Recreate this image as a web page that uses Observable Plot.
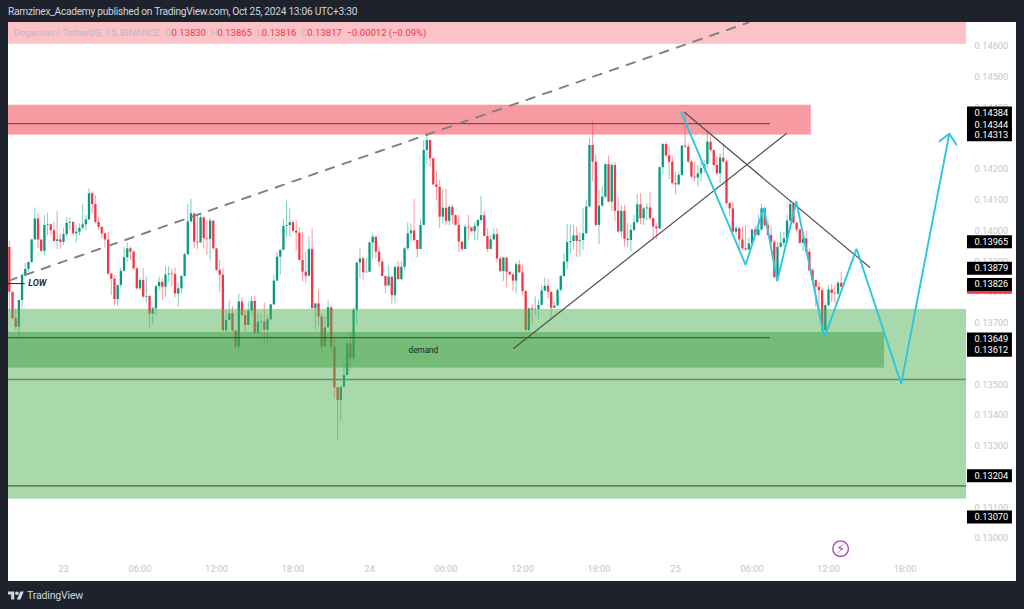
<!DOCTYPE html>
<html>
<head>
<meta charset="utf-8">
<script src="https://cdn.jsdelivr.net/npm/d3@7"></script>
<script src="https://cdn.jsdelivr.net/npm/@observablehq/plot@0.6"></script>
<style>
  html,body{margin:0;padding:0;background:#1e222d;width:1024px;height:609px;overflow:hidden;font-family:Roboto,sans-serif}
  #title{height:22px;line-height:24px;padding-left:8px;color:#d1d4dc;font-size:10.2px;letter-spacing:-.27px;white-space:nowrap}
  #chart{position:relative;margin-left:8px;width:1008px;height:559px}
  #chart svg{display:block}
  #legend{position:absolute;left:6px;top:5px;font-size:9.5px;line-height:12px;white-space:pre;color:#b4bcc9}
  #legend b{font-weight:400;color:#f23645}
  #footer{height:28px;display:flex;align-items:center;padding-left:8px;color:#d1d4dc;font-size:10.6px;letter-spacing:-.2px;gap:3px}
</style>
</head>
<body>
<div id="title">Ramzinex_Academy published on TradingView.com, Oct 25, 2024 13:06 UTC+3:30</div>
<div id="chart">
  <div id="legend"></div>
</div>
<div id="footer">
  <svg width="16" height="12" viewBox="0 0 36 24"><path fill="#d1d4dc" d="M14 22H7V11H0V4h14v18zM28 22h-8l7.5-18h8L28 22z"/><circle fill="#d1d4dc" cx="20" cy="8" r="4"/></svg>
  <span>TradingView</span>
</div>
<script>
// Candles: index 0 is the 15-minute bar 17 bars before 23 Oct 00:00.
const firstIndex = -17;
const firstOpen = .13947;
const closes = [
.13801,.13714,.13687,.13774,.13857,.13875,.13898,.13971,.14039,.13971,
.13934,.14018,.14020,.14001,.13966,.13971,.13963,.13988,.14025,.14028,
.13991,.13996,.14009,.14020,.14036,.14121,.14086,.14028,.14012,.13991,
.13971,.13860,.13843,.13777,.13823,.13869,.13913,.13942,.13931,.13877,
.13812,.13839,.13785,.13787,.13730,.13747,.13819,.13833,.13817,.13857,
.13860,.13858,.13795,.13812,.13852,.13923,
.14029,.14056,.13964,.13961,.14043,.13975,.13973,.14032,.13942,.13872,
.13856,.13675,.13709,.13731,.13675,.13623,.13769,.13725,.13693,.13740,
.13771,.13668,.13702,.13704,.13677,.13711,.13760,.13837,.13915,.13937,
.14015,.14018,.14027,.13999,.13993,.13904,.13866,.13853,.13940,.13747,
.13763,.13720,.13623,.13685,.13750,.13623,.13490,.13449,.13492,.13530,
.13633,.13585,.13742,
.13896,.13909,.13864,.13866,.13961,.13980,.13931,.13899,
.13852,.13821,.13850,.13790,.13882,.13842,.13882,.13942,.13991,.14000,
.13969,.13940,.14018,.14262,.14294,.14235,.14150,.14142,.14045,.14074,
.14031,.14077,.14050,.14018,.13964,.13940,.14012,.14010,.13998,.14015,
.14034,.14050,.13982,.13940,.13971,.13988,.13909,.13868,.13912,.13866,
.13857,.13837,.13890,.13864,.13803,.13676,.13747,
.13744,.13745,.13758,.13805,.13820,.13801,.13749,.13756,.13807,.13852,
.13899,.13962,.13966,.13984,.13966,.13969,.13991,.14078,.14278,.14224,
.14018,.14081,.14110,.14216,.14094,.14213,.14064,.13997,.14064,.13973,
.13969,.14002,.14027,.14085,.14040,.14072,.14075,.14040,.14013,.14007,
.14206,.14281,.14244,.14224,.14154,.14150,.14181,.14276,
.14273,.14224,.14175,.14172,.14186,.14203,.14216,.14289,.14262,.14213,
.14186,.14237,.14224,.14089,.14072,.13996,.14007,.13971,.13942,.13938,
.13958,.14003,.13985,.14003,.14072,.14017,.13985,.13963,.13849,.13947,
.13960,.13974,.14032,.14086,.14025,.14003,.13960,.13974,.13931,.13871,
.13839,.13817,.13806,.13676,.13757,.13808,.13797,.13795,.13830,.13817];
const highs = [
.13966,.13801,.13747,.13774,.13857,.13895,.13898,.13971,.14075,.14056,
.13969,.14050,.14058,.14023,.14028,.14063,.13991,.14007,.14043,.14043,
.14028,.14018,.14023,.14086,.14050,.14137,.14128,.14115,.14045,.14012,
.13993,.13996,.13860,.13855,.13823,.13880,.13947,.13961,.13947,.13936,
.13880,.13847,.13877,.13850,.13790,.13752,.13823,.13850,.13844,.13884,
.13884,.13877,.13880,.13830,.13855,.13928,
.14086,.14103,.14054,.14054,.14056,.14045,.14034,.14040,.14034,.13942,
.13904,.13877,.13742,.13772,.13753,.13677,.13796,.13783,.13742,.13769,
.13787,.13787,.13733,.13731,.13766,.13722,.13760,.13856,.13931,.13937,
.14037,.14097,.14072,.14034,.14034,.14011,.13996,.13931,.13982,.14007,
.13763,.13805,.13729,.13720,.13772,.13753,.13650,.13492,.13492,.13568,
.13636,.13671,.13750,
.13896,.13942,.13915,.13912,.13964,.13991,.13980,.13947,
.13909,.13853,.13886,.13850,.13882,.13901,.13901,.13947,.14026,.14023,
.14102,.13969,.14037,.14294,.14319,.14297,.14235,.14193,.14164,.14137,
.14135,.14083,.14085,.14052,.14050,.13964,.14020,.14050,.14012,.14028,
.14037,.14112,.14063,.14007,.13985,.14007,.14007,.13915,.13915,.13912,
.13866,.13861,.13899,.13904,.13887,.13806,.13749,
.13760,.13785,.13774,.13823,.13847,.13843,.13801,.13769,.13812,.13856,
.13926,.14020,.14020,.14018,.14013,.13994,.14072,.14100,.14302,.14356,
.14248,.14132,.14143,.14219,.14244,.14219,.14221,.14110,.14083,.14083,
.14024,.14018,.14051,.14118,.14121,.14078,.14089,.14124,.14042,.14024,
.14208,.14284,.14287,.14273,.14244,.14190,.14192,.14278,
.14386,.14284,.14230,.14224,.14213,.14224,.14230,.14327,.14306,.14262,
.14240,.14251,.14278,.14230,.14093,.14093,.14014,.14012,.14014,.14017,
.13977,.14007,.14017,.14053,.14088,.14077,.14034,.14014,.13969,.13963,
.13996,.13996,.14050,.14099,.14093,.14028,.14007,.13999,.13999,.13942,
.13877,.13839,.13833,.13817,.13763,.13822,.13826,.13822,.13836,.13865];
const lows = [
.13743,.13714,.13676,.13655,.13747,.13850,.13866,.13893,.13969,.13942,
.13931,.13920,.13985,.13985,.13963,.13940,.13942,.13953,.13980,.14001,
.13985,.13960,.13985,.14001,.14001,.14034,.14056,.14023,.14001,.13974,
.13942,.13855,.13790,.13757,.13754,.13812,.13866,.13898,.13904,.13871,
.13808,.13806,.13782,.13765,.13685,.13696,.13725,.13806,.13774,.13785,
.13833,.13817,.13782,.13752,.13795,.13850,
.13921,.14029,.13942,.13939,.13964,.13942,.13921,.13902,.13939,.13870,
.13801,.13675,.13671,.13709,.13671,.13612,.13603,.13722,.13666,.13693,
.13725,.13660,.13660,.13655,.13633,.13633,.13711,.13758,.13837,.13856,
.13937,.13980,.13980,.13996,.13935,.13902,.13834,.13828,.13852,.13747,
.13677,.13690,.13606,.13623,.13685,.13612,.13455,.13317,.13379,.13492,
.13557,.13547,.13574,
.13693,.13844,.13839,.13864,.13864,.13909,.13909,.13882,
.13852,.13796,.13821,.13763,.13763,.13839,.13839,.13871,.13936,.13964,
.13964,.13912,.13940,.14018,.14215,.14207,.14148,.14099,.14009,.14023,
.14018,.14016,.14020,.14016,.13931,.13933,.13940,.13969,.13994,.13969,
.13969,.14031,.13981,.13931,.13940,.13969,.13896,.13866,.13836,.13817,
.13855,.13803,.13796,.13861,.13790,.13676,.13671,
.13698,.13726,.13713,.13756,.13801,.13780,.13713,.13749,.13756,.13801,
.13850,.13875,.13923,.13937,.13915,.13915,.13937,.13991,.14075,.14159,
.14013,.13955,.14078,.14105,.14092,.14064,.14031,.13991,.13977,.13948,
.13945,.13932,.13997,.14024,.14020,.14018,.14034,.14034,.13977,.13973,
.14005,.14183,.14240,.14165,.14150,.14118,.14146,.14179,
.14268,.14219,.14170,.14159,.14143,.14159,.14186,.14205,.14257,.14208,
.14181,.14154,.14219,.14086,.14045,.13994,.13985,.13936,.13936,.13934,
.13936,.13947,.13980,.13982,.14001,.14012,.13982,.13956,.13844,.13833,
.13942,.13947,.13958,.14028,.14021,.13996,.13956,.13934,.13925,.13869,
.13833,.13752,.13741,.13674,.13671,.13754,.13768,.13763,.13790,.13816];

const xTicks = [0,24,48,72,96,120,144,168,192,216,240,264];
const xLabels = ["23","06:00","12:00","18:00","24","06:00","12:00","18:00","25","06:00","12:00","18:00"];
// Tick labels that the reference leaves visible, wholly or in part, around the price tags
const yTicks = [.146,.145,.144,.142,.141,.14,.139,.138,.137,.135,.134,.133,.131,.13];
const priceTags = [.14384,.14344,.14313,.13965,.13879,.13826,.13649,.13612,.13204,.1307];
const lastPrice = .13817;

// Horizontal price zones: top band, supply, demand, wide demand
const zoneLeft = -17.255;
const zoneRights  = [283.3,234.6,257.6,283.3];
const zoneTops    = [.1468,.14409,.1367,.13745];
const zoneBottoms = [.14607,.14312,.13554,.13128];
const zoneColors  = ["#f23645","#f23645","#388e3c","#4caf50"];
const zoneAlphas  = [.3,.5,.49,.48];

// Horizontal lines
const levelPrices = [.14349,.13653,.13517,.13171];
const levelEnds   = [221.8,221.8,283.3,283.3];
const levelColors = ["#5a3a3c","#2c4a30","#6f8a70","#4a5f4a"];
const levelWidths = [1,1,1.4,1.2];

// Sloped drawings
const dashedX = [-17.34,214.9], dashedP = [.13838,.14678];
const riseX = [141.2,226.8], riseP = [.13618,.14317];
const fallX = [194.8,252.9], fallP = [.14386,.13882];
const pathX = [193.8,214,219.7,223.9,229.9,238.7,248.8,262.8,277.9];
const pathP = [.14386,.1389,.14075,.13837,.14096,.13653,.13942,.13503,.14316];
const headX = [274.8,277.9,280.1];
const headP = [.14292,.14316,.14281];

const lowMarkX = [-17.255,-12];
const lowMarkP = .13829;

const legendParts = [
  ["Dogecoin / TetherUS, 15, BINANCE  O",0],["0.13830",1],["  H",0],["0.13865",1],["  L",0],["0.13816",1],
  ["  C",0],["0.13817",1],["  ",0],["−0.00012 (−0.09%)",1]
];

const candles = closes.map((c,i)=>({
  k:firstIndex+i, o:i?closes[i-1]:firstOpen, c, h:highs[i], l:lows[i],
  color:c>=(i?closes[i-1]:firstOpen)?"#089981":"#f23645"
}));
const zones = zoneTops.map((t,i)=>({x1:zoneLeft,x2:zoneRights[i],y1:zoneBottoms[i],y2:t,fill:zoneColors[i],a:zoneAlphas[i]}));
const levels = levelPrices.map((p,i)=>({p,x2:levelEnds[i],stroke:levelColors[i],w:levelWidths[i]}));
const pts = (xs,ys)=>xs.map((x,i)=>({x,y:ys[i]}));

const font = "Roboto, sans-serif";
const axisColor = "#c3c6cd";
const tagLeft = 283.6, tagRight = 297.7;
const chart = Plot.plot({
  width:1008, height:559, margin:0,
  style:{background:"#ffffff",fontFamily:font},
  x:{type:"linear",domain:[-17.255,298.98],range:[0,1008],axis:null},
  y:{type:"linear",domain:[.128602,.14678],range:[559,0],axis:null},
  marks:[
    // candles
    Plot.ruleX(candles,{x:"k",y1:"l",y2:"h",stroke:"color",strokeWidth:1,strokeOpacity:.5}),
    Plot.ruleX(candles,{x:"k",y1:"o",y2:"c",stroke:"color",strokeWidth:2.3}),
    // zones over the candles
    Plot.rect(zones,{x1:"x1",x2:"x2",y1:"y1",y2:"y2",fill:"fill",fillOpacity:"a"}),
    // levels
    Plot.ruleY(levels,{y:"p",x1:zoneLeft,x2:"x2",stroke:"stroke",strokeWidth:"w"}),
    // sloped lines
    Plot.line(pts(dashedX,dashedP),{x:"x",y:"y",stroke:"#7f7f7f",strokeWidth:1.9,strokeDasharray:"8.8 8.9",clip:true}),
    Plot.line(pts(riseX,riseP),{x:"x",y:"y",stroke:"#505050",strokeWidth:1.2}),
    Plot.line(pts(fallX,fallP),{x:"x",y:"y",stroke:"#505050",strokeWidth:1.2}),
    Plot.line(pts(pathX,pathP),{x:"x",y:"y",stroke:"#2cc6e0",strokeWidth:1.9,strokeLinejoin:"miter"}),
    Plot.line(pts(headX,headP),{x:"x",y:"y",stroke:"#2cc6e0",strokeWidth:1.9}),
    // LOW marker and captions
    Plot.ruleY([lowMarkP],{x1:lowMarkX[0],x2:lowMarkX[1],stroke:"#222",strokeWidth:1}),
    Plot.text(["LOW"],{x:-8.2,y:lowMarkP,text:d=>d,fontSize:9,fontStyle:"italic",fontWeight:600,fill:"#222"}),
    Plot.text(["demand"],{x:112.9,y:.13613,text:d=>d,fontSize:8.2,fill:"#15250f"}),
    // lightning badge
    Plot.dot([0],{x:243.8,y:.12967,r:7.8,stroke:"#ab47bc",strokeWidth:1.4,fill:"#fff"}),
    Plot.text(["⚡"],{x:243.8,y:.12967,text:d=>d,fontSize:13,fill:"#ab47bc",fontFamily:"DejaVu Sans"}),
    // axes
    Plot.axisY(yTicks,{anchor:"right",tickSize:0,tickPadding:-42,tickFormat:d=>d.toFixed(5),label:null,fontSize:9.3,fill:axisColor}),
    Plot.axisX(xTicks,{anchor:"bottom",tickSize:0,tickPadding:-16,tickFormat:d=>xLabels[xTicks.indexOf(d)],label:null,fontSize:9.3,fill:axisColor}),
    // price tags
    Plot.ruleY([lastPrice],{x1:tagLeft,x2:tagRight,stroke:"#f23645",strokeWidth:13}),
    Plot.ruleY(priceTags,{y:d=>d,x1:tagLeft,x2:tagRight,stroke:"#000",strokeWidth:13}),
    Plot.axisY(priceTags,{anchor:"right",tickSize:0,tickPadding:-42,tickFormat:d=>d.toFixed(5),label:null,fontSize:9.3,fill:"#fff"})
  ]
});
const host = document.getElementById("chart");
host.insertBefore(chart, host.firstChild);
const legend = document.getElementById("legend");
legendParts.forEach(([t,red])=>{const s=document.createElement(red?"b":"span");s.textContent=t;legend.appendChild(s);});
</script>
</body>
</html>
